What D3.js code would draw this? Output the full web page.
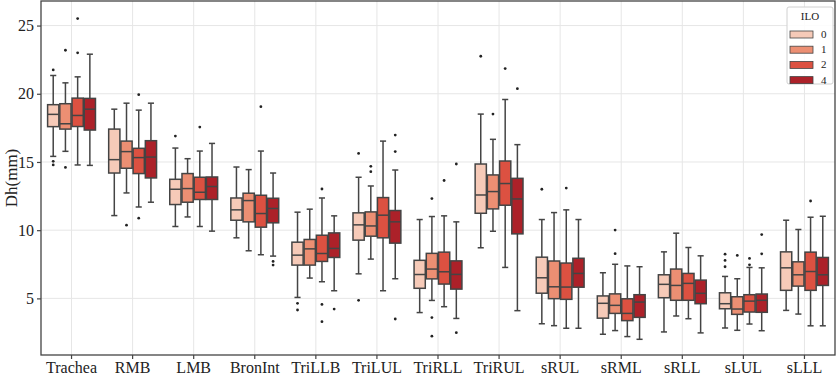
<!DOCTYPE html>
<html>
<head>
	<title>Dh boxplot</title>
	<script src="https://cdn.jsdelivr.net/npm/d3@7"></script>
</head>
<style type="text/css">
	body { margin: 0; background: #fff; }
	text { font-family: "Liberation Serif", "Times New Roman", serif; fill: #222; }
</style>
<body>
</body>
</html>
<script type="text/javascript">
	var width = 837;
	var height = 376;

	var categories = ["Trachea", "RMB", "LMB", "BronInt", "TriLLB", "TriLUL", "TriRLL", "TriRUL", "sRUL", "sRML", "sRLL", "sLUL", "sLLL"];
	var hues = ["0", "1", "2", "4"];
	var yTicks = [5, 10, 15, 20, 25];

	// box stats per category, one value per ILO level
	var whiskLo = [
		[15.41, 15.78, 14.78, 14.75], [11.07, 12.73, 11.7, 12.05], [10.27, 10.97, 10.27, 9.93], [9.44, 8.49, 8.2, 8.1],
		[5.07, 6.49, 6.22, 5.56], [6.8, 7.88, 5.56, 6.44], [3.96, 4.85, 4.39, 3.53], [8.71, 9.92, 7.27, 4.1],
		[3.14, 3.0, 2.81, 2.81], [2.37, 2.64, 2.2, 2.0], [2.54, 3.71, 3.51, 2.47], [2.83, 2.66, 3.12, 2.63], [4.12, 3.85, 2.99, 2.99]
	];
	var q1 = [
		[17.59, 17.41, 17.6, 17.34], [14.19, 14.54, 14.15, 13.83], [11.88, 12.05, 12.25, 12.25], [10.73, 10.61, 10.22, 10.54],
		[7.44, 7.44, 7.71, 8.0], [9.27, 9.56, 9.44, 9.05], [5.74, 6.43, 6.05, 5.68], [11.24, 11.56, 11.83, 9.73],
		[5.38, 4.98, 4.93, 5.82], [3.55, 3.9, 3.37, 3.61], [5.05, 4.86, 4.86, 4.61], [4.24, 3.83, 4.0, 3.98], [5.59, 5.9, 5.59, 5.95]
	];
	var median = [
		[18.49, 17.8, 18.41, 18.87], [15.17, 15.76, 15.32, 15.36], [13.0, 13.05, 12.78, 13.2], [11.49, 12.17, 11.22, 11.59],
		[8.17, 8.63, 8.29, 8.66], [10.39, 10.31, 11.1, 10.61], [6.75, 7.15, 6.95, 6.76], [12.58, 12.83, 13.42, 12.29],
		[6.51, 5.85, 5.83, 6.83], [4.64, 4.49, 3.9, 4.73], [6.03, 5.95, 6.1, 5.37], [4.61, 4.22, 4.8, 4.86], [7.24, 6.73, 6.97, 6.73]
	];
	var q3 = [
		[19.2, 19.27, 19.68, 19.66], [17.41, 16.53, 16.0, 16.56], [13.73, 14.15, 13.88, 13.9], [12.36, 12.71, 12.56, 12.34],
		[9.12, 9.32, 9.63, 9.8], [11.27, 11.34, 12.39, 11.44], [7.79, 8.3, 8.39, 7.75], [14.85, 14.05, 15.07, 13.8],
		[8.02, 7.74, 7.59, 7.94], [5.18, 5.33, 4.97, 5.27], [6.73, 7.15, 6.83, 6.34], [5.41, 5.12, 5.27, 5.32], [8.41, 7.68, 8.39, 8.0]
	];
	var whiskHi = [
		[21.34, 20.8, 21.24, 22.9], [18.87, 19.31, 18.8, 19.31], [16.02, 15.24, 15.8, 16.36], [14.63, 14.44, 15.8, 14.19],
		[11.32, 11.54, 12.36, 11.05], [13.88, 13.24, 16.53, 14.41], [10.78, 11.0, 11.05, 10.61], [18.51, 16.66, 19.58, 16.27],
		[10.78, 11.29, 11.49, 10.78], [6.88, 7.5, 7.38, 7.32], [8.41, 9.78, 8.73, 8.12], [6.61, 6.44, 7.27, 7.24], [10.73, 10.05, 10.95, 11.02]
	];
	var outliers = [
		[[21.75, 15.05, 14.78], [23.19, 14.6], [25.51, 23.0], []],
		[[], [10.37], [19.93, 10.88], []],
		[[16.9], [], [17.56], []],
		[[], [], [19.05], [7.71, 7.44]],
		[[4.64, 4.15], [], [13.02, 4.56, 3.29], [4.22]],
		[[15.63, 4.86], [14.68, 14.29], [], [16.97, 15.76, 3.49]],
		[[], [12.32, 3.59, 2.23], [13.64], [14.85, 2.49]],
		[[22.75], [18.51], [21.85], [20.37]],
		[[13.0], [], [13.09], []],
		[[], [10.01, 8.28], [], []],
		[[], [], [], []],
		[[8.24, 7.78, 7.32], [8.15], [7.93, 7.46], [9.68, 8.27]],
		[[], [], [12.14], []]
	];

	var colors = d3.scaleOrdinal().domain(hues).range(["#f6cab8", "#ec8f73", "#dc5141", "#ac2129"]);
	var lineColor = "#444";

	var margin = {left: 41, right: 2, top: 1, bottom: 21};
	var svg = d3.select("body").append("svg").attr("width", width).attr("height", height);

	var x = d3.scaleBand().domain(categories).range([margin.left, width - margin.right]).padding(0);
	var xHue = d3.scaleBand().domain(hues).range([0, x.bandwidth() * 0.8]);
	var y = d3.scaleLinear().domain([0.85, 26.8]).range([height - margin.bottom, margin.top]);

	// grid
	svg.append("g").selectAll("line").data(yTicks).enter().append("line")
		.attr("x1", margin.left).attr("x2", width - margin.right)
		.attr("y1", function(d){ return y(d); }).attr("y2", function(d){ return y(d); })
		.attr("stroke", "#e6e6e6").attr("stroke-width", 1);
	svg.append("g").selectAll("line").data(categories).enter().append("line")
		.attr("x1", function(d){ return x(d) + x.bandwidth() / 2; }).attr("x2", function(d){ return x(d) + x.bandwidth() / 2; })
		.attr("y1", margin.top).attr("y2", height - margin.bottom)
		.attr("stroke", "#e6e6e6").attr("stroke-width", 1);

	// one record per box, built from the arrays
	var boxes = [];
	categories.forEach(function(c, i){
		hues.forEach(function(h, j){
			boxes.push({cat: c, hue: h, lo: whiskLo[i][j], q1: q1[i][j], med: median[i][j], q3: q3[i][j], hi: whiskHi[i][j], out: outliers[i][j]});
		});
	});

	var groupOffset = x.bandwidth() * 0.1;
	var bw = xHue.bandwidth();
	var g = svg.append("g").selectAll("g").data(boxes).enter().append("g")
		.attr("transform", function(d){ return "translate(" + (x(d.cat) + groupOffset + xHue(d.hue)) + ",0)"; });

	// whiskers
	g.append("line").attr("x1", bw / 2).attr("x2", bw / 2)
		.attr("y1", function(d){ return y(d.hi); }).attr("y2", function(d){ return y(d.q3); })
		.attr("stroke", lineColor).attr("stroke-width", 1.5);
	g.append("line").attr("x1", bw / 2).attr("x2", bw / 2)
		.attr("y1", function(d){ return y(d.q1); }).attr("y2", function(d){ return y(d.lo); })
		.attr("stroke", lineColor).attr("stroke-width", 1.5);
	// caps
	g.append("line").attr("x1", bw / 4).attr("x2", bw * 3 / 4)
		.attr("y1", function(d){ return y(d.hi); }).attr("y2", function(d){ return y(d.hi); })
		.attr("stroke", lineColor).attr("stroke-width", 1.5);
	g.append("line").attr("x1", bw / 4).attr("x2", bw * 3 / 4)
		.attr("y1", function(d){ return y(d.lo); }).attr("y2", function(d){ return y(d.lo); })
		.attr("stroke", lineColor).attr("stroke-width", 1.5);
	// box
	g.append("rect").attr("x", 0.5).attr("width", bw - 1)
		.attr("y", function(d){ return y(d.q3); })
		.attr("height", function(d){ return y(d.q1) - y(d.q3); })
		.attr("fill", function(d){ return colors(d.hue); })
		.attr("stroke", lineColor).attr("stroke-width", 1.5);
	// median
	g.append("line").attr("x1", 0.5).attr("x2", bw - 0.5)
		.attr("y1", function(d){ return y(d.med); }).attr("y2", function(d){ return y(d.med); })
		.attr("stroke", lineColor).attr("stroke-width", 1.5);
	// fliers
	g.selectAll("circle").data(function(d){ return d.out; }).enter().append("circle")
		.attr("cx", bw / 2).attr("cy", function(d){ return y(d); }).attr("r", 1.4)
		.attr("fill", "#222");

	// frame
	svg.append("rect").attr("x", margin.left).attr("y", margin.top)
		.attr("width", width - margin.right - margin.left).attr("height", height - margin.bottom - margin.top)
		.attr("fill", "none").attr("stroke", "#444").attr("stroke-width", 1.3);

	// axes
	var yAxis = svg.append("g").attr("transform", "translate(" + margin.left + ",0)")
		.call(d3.axisLeft(y).tickValues(yTicks).tickSize(4).tickPadding(3));
	var xAxis = svg.append("g").attr("transform", "translate(0," + (height - margin.bottom) + ")")
		.call(d3.axisBottom(x).tickSize(4).tickPadding(3));
	[yAxis, xAxis].forEach(function(a){
		a.select(".domain").remove();
		a.selectAll("line").attr("stroke", "#444").attr("stroke-width", 1.2);
		a.selectAll("text").attr("font-family", "Liberation Serif").attr("font-size", 16).attr("fill", "#222");
	});

	svg.append("text").attr("transform", "translate(17," + ((height - margin.bottom + margin.top) / 2) + ") rotate(-90)")
		.attr("text-anchor", "middle").attr("font-size", 17).text("Dh(mm)");

	// legend
	var legend = svg.append("g").attr("transform", "translate(787,7)");
	legend.append("rect").attr("width", 46).attr("height", 77).attr("rx", 2)
		.attr("fill", "#fff").attr("fill-opacity", 0.85).attr("stroke", "#d0d0d0");
	legend.append("text").attr("x", 23).attr("y", 13).attr("text-anchor", "middle").attr("font-size", 11).text("ILO");
	var item = legend.selectAll(".item").data(hues).enter().append("g").attr("class", "item")
		.attr("transform", function(d, i){ return "translate(3," + (24 + i * 15.2) + ")"; });
	item.append("rect").attr("width", 23).attr("height", 7)
		.attr("fill", function(d){ return colors(d); }).attr("stroke", lineColor).attr("stroke-width", 0.8);
	item.append("text").attr("x", 31).attr("y", 7).attr("font-size", 11).text(function(d){ return d; });
</script>
